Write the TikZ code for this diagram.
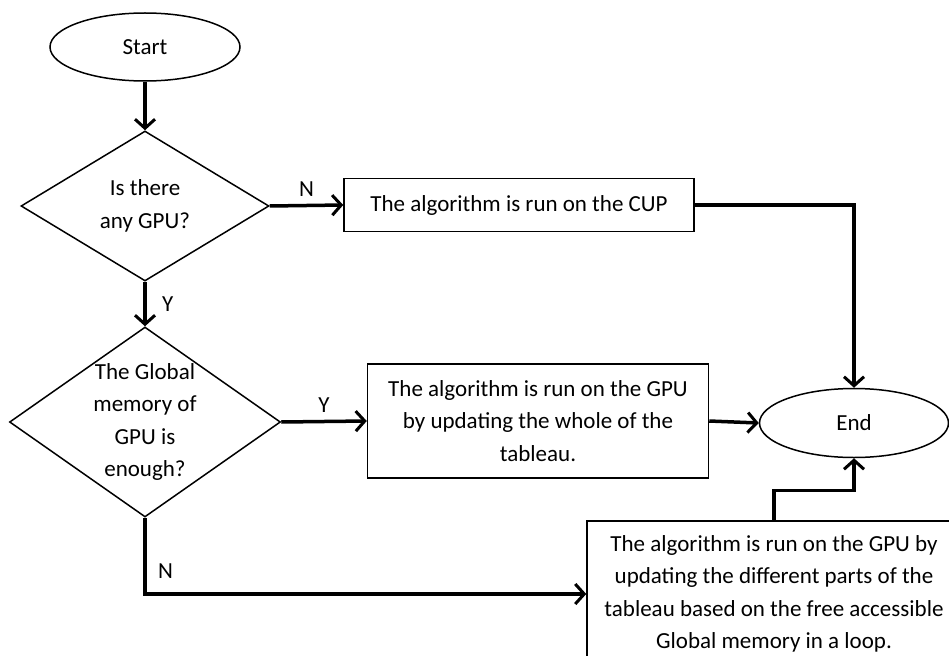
\documentclass[tikz,border=0pt]{standalone}
\usepackage{fontspec}
\setmainfont{Carlito}
\usetikzlibrary{shapes.geometric,arrows.meta}

\tikzset{
  every node/.style={font=\fontsize{23}{32.5}\selectfont},
  terminal/.style={draw,line width=1.5pt,ellipse,inner sep=0pt,minimum width=190pt,minimum height=68pt},
  decision/.style={draw,line width=1.5pt,diamond,inner sep=-6pt,align=center},
  process/.style={draw,line width=1.5pt,rectangle,inner sep=0pt,align=center},
  flow/.style={line width=3.5pt,-{Straight Barb[length=9pt,width=20pt,line width=3pt]}},
}

\begin{document}
\begin{tikzpicture}[x=1pt,y=-1pt]
    \clip (0,0) rectangle (949,655); % page size
    \node[terminal] (start) at (145,47) {Start}; % begin
    \node[decision,aspect=1.65,minimum width=248pt,minimum height=150pt] (hasgpu) at (145,206) {Is there\\any GPU?}; % first test
    \node[decision,aspect=1.43,minimum width=271pt,minimum height=190pt] (memok) at (145,422) {The Global\\memory of\\GPU is\\enough?}; % second test
    \node[process,minimum width=350pt,minimum height=53pt] (oncpu) at (519,205) {The algorithm is run on the CUP}; % no GPU
    \node[process,minimum width=341pt,minimum height=114pt] (whole) at (538,421) {The algorithm is run on the GPU\\by updating the whole of the\\tableau.}; % enough memory
    \node[process,minimum width=374pt,minimum height=146pt] (parts) at (774,594) {The algorithm is run on the GPU by\\updating the different parts of the\\tableau based on the free accessible\\Global memory in a loop.}; % not enough memory
    \node[terminal,minimum width=189pt,minimum height=69pt] (end) at (854,423) {End}; % finish

    \draw[flow] (start) -- (hasgpu); % start to test
    \draw[flow] (hasgpu.east) -- (oncpu.west) node[midway,above=4pt] {N};
    \draw[flow] (hasgpu.south) -- (memok.north) node[midway,right=12pt] {Y};
    \draw[flow] (memok.east) -- (whole.west) node[midway,above=4pt] {Y};
    \draw[flow] (memok.south) |- (parts.west) node[pos=0.35,right=8pt] {N};
    \draw[flow] (oncpu.east) -| (end.north); % cpu to end
    \draw[flow] (whole.east) -- (end.west); % whole to end
    \draw[flow] (parts.north) -- ++(0,-30) -| (end.south); % loop to end
\end{tikzpicture}
\end{document}
